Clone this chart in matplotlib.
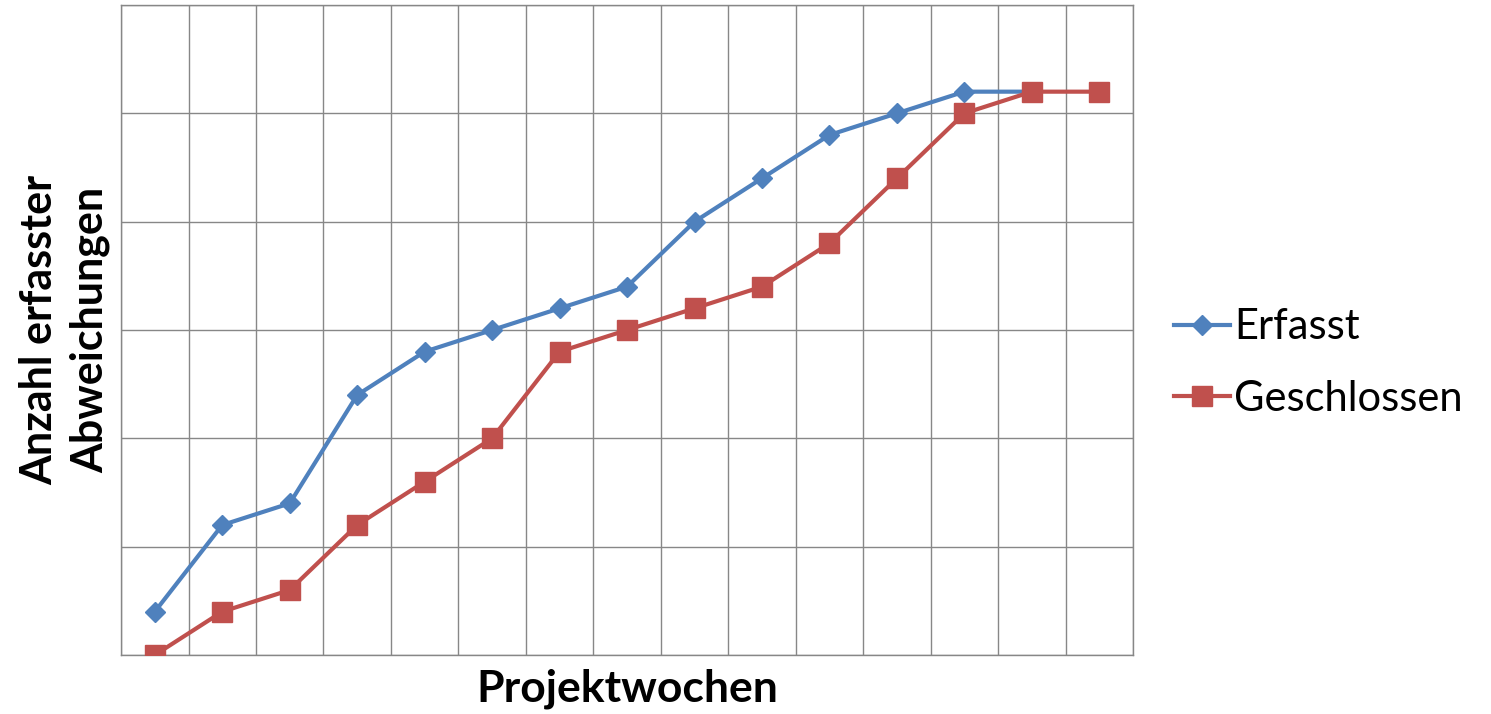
import matplotlib
matplotlib.use('Agg')
import matplotlib.pyplot as plt
import numpy as np

plt.rcParams['font.family'] = ['Lato', 'DejaVu Sans']

weeks = np.arange(1, 16)
erfasst = [2, 6, 7, 12, 14, 15, 16, 17, 20, 22, 24, 25, 26, 26]
geschlossen = [0, 2, 3, 6, 8, 10, 14, 15, 16, 17, 19, 22, 25, 26, 26]

fig = plt.figure(figsize=(14.91, 7.14), dpi=100)
ax = fig.add_axes([0.0812, 0.0826, 0.6787, 0.9104])

ax.plot(weeks[:len(erfasst)], erfasst, color='#4F81BD', lw=3, marker='D', ms=10,
        label='Erfasst', zorder=3)
ax.plot(weeks, geschlossen, color='#C0504D', lw=3, marker='s', ms=14,
        label='Geschlossen', zorder=4)

ax.set_xlim(0.5, 15.5)
ax.set_ylim(0, 30)
ax.set_xticks(np.arange(0.5, 15.6, 1))
ax.set_yticks(np.arange(0, 31, 5))
ax.tick_params(length=0, labelbottom=False, labelleft=False)
ax.grid(True, color='#878787', lw=1)
for s in ax.spines.values():
    s.set_color('#878787')
    s.set_linewidth(1)

ax.set_xlabel('Projektwochen', fontsize=32, fontweight='bold', labelpad=10)
ax.set_ylabel('Anzahl erfasster\nAbweichungen', fontsize=31, fontweight='bold',
              labelpad=8, linespacing=1.3)

ax.legend(loc='center left', bbox_to_anchor=(1.02, 0.449), frameon=False,
          fontsize=30, handlelength=1.35, handletextpad=0.1, labelspacing=0.8,
          borderpad=0)

fig.savefig('out.png', dpi=100)
